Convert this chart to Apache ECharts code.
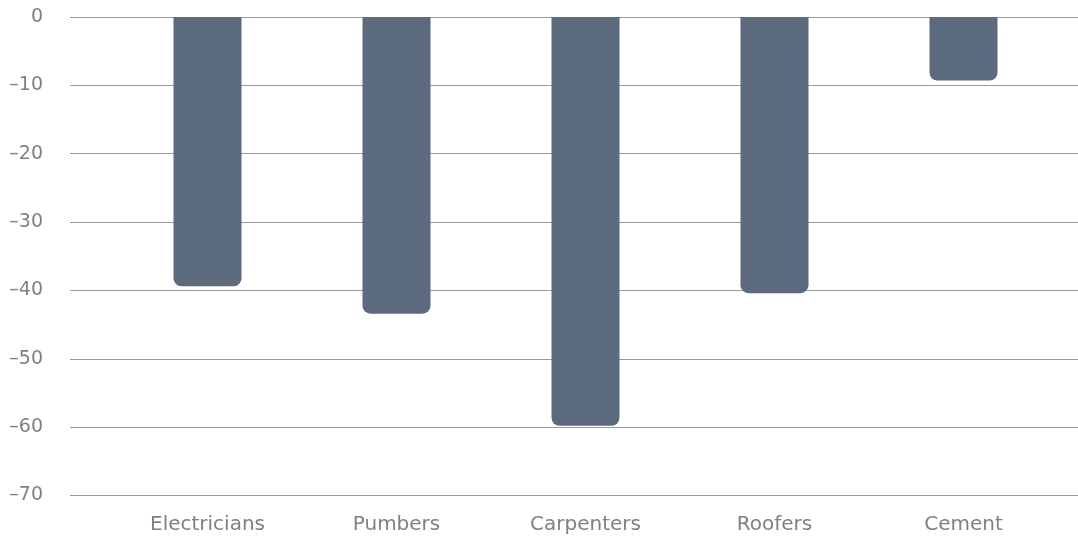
<!DOCTYPE html>
<html>
<head>
<meta charset="utf-8">
<script src="https://cdn.jsdelivr.net/npm/echarts@6/dist/echarts.min.js"></script>
<style>html,body{margin:0;padding:0;background:#fff}#c{width:1078px;height:541px}</style>
</head>
<body>
<div id="c"></div>
<script>
const categories = ["Electricians", "Pumbers", "Carpenters", "Roofers", "Cement"];
const values = [-39.4, -43.4, -59.8, -40.4, -9.3];
const yTicks = { min: -70, max: 0, interval: 10 };

const chart = echarts.init(document.getElementById('c'), null, { renderer: 'canvas' });
const fontFamily = '"DejaVu Sans", sans-serif';
chart.setOption({
  animation: false,
  backgroundColor: '#ffffff',
  grid: [
    { left: 70, right: 0, top: 17, bottom: 45.5 },
    { left: 113, width: 945, top: 17, bottom: 45.5 }
  ],
  xAxis: [
    { type: 'category', gridIndex: 0, data: categories, show: false },
    {
      type: 'category', gridIndex: 1, data: categories,
      axisLine: { show: false }, axisTick: { show: false },
      axisLabel: { color: '#808080', fontSize: 20, fontFamily: fontFamily, margin: 19 }
    }
  ],
  yAxis: [
    {
      type: 'value', gridIndex: 0, min: yTicks.min, max: yTicks.max, interval: yTicks.interval,
      axisLine: { show: false }, axisTick: { show: false },
      splitLine: { lineStyle: { color: '#9a9a9a', width: 1 } },
      axisLabel: {
        color: '#808080', fontSize: 19, fontFamily: fontFamily, margin: 27,
        formatter: v => String(v).replace('-', '\u2013')
      }
    },
    {
      type: 'value', gridIndex: 1, min: yTicks.min, max: yTicks.max, interval: yTicks.interval,
      show: false
    }
  ],
  series: [{
    type: 'bar', xAxisIndex: 1, yAxisIndex: 1, data: values,
    barWidth: 68,
    itemStyle: { color: '#5c6a7d', borderRadius: [0, 0, 8, 8] }
  }]
});
</script>
</body>
</html>
